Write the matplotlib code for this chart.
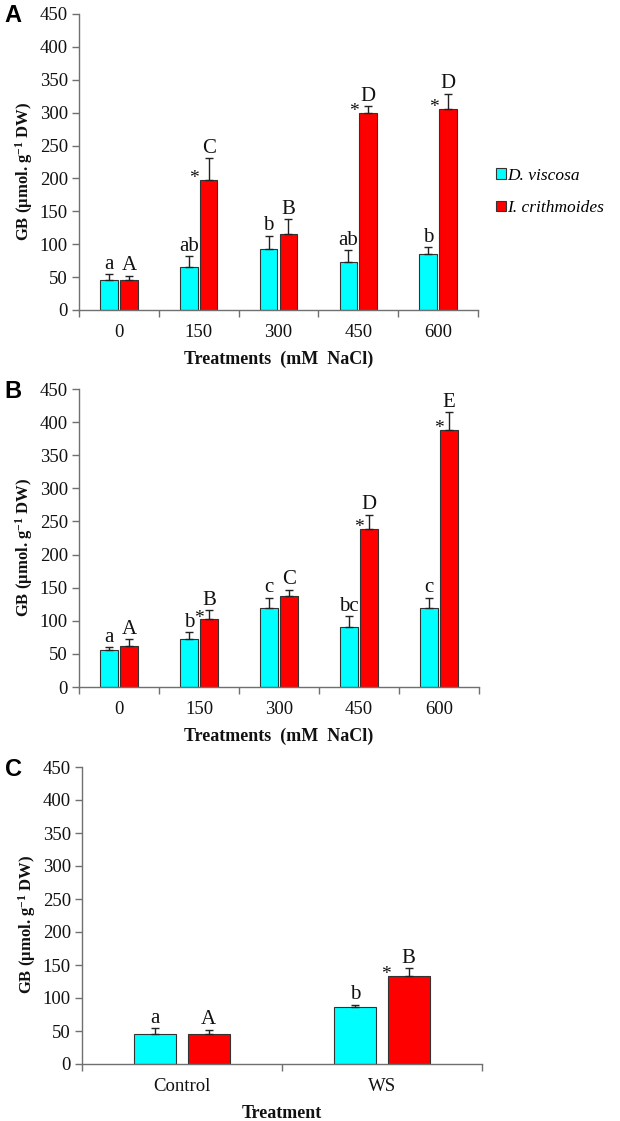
import matplotlib
matplotlib.use("Agg")
import matplotlib.pyplot as plt
import numpy as np

plt.rcParams['font.family'] = ['Liberation Serif', 'DejaVu Serif']
plt.rcParams['mathtext.fontset'] = 'custom'
plt.rcParams['mathtext.rm'] = 'Liberation Serif'
plt.rcParams['mathtext.bf'] = 'Liberation Serif:bold'
plt.rcParams['mathtext.it'] = 'Liberation Serif:italic'

# ---------------- data ----------------
nacl_labels = ['0', '150', '300', '450', '600']
ws_labels = ['Control', 'WS']

a_dv = [46, 65, 92, 73, 85]
a_dv_err = [8, 17, 21, 18, 11]
a_ic = [46, 198, 115, 300, 306]
a_ic_err = [6, 33, 23, 10, 23]
a_dv_let = ['a', 'ab', 'b', 'ab', 'b']
a_ic_let = ['A', 'C', 'B', 'D', 'D']
a_star = [False, True, False, True, True]

b_dv = [56, 73, 120, 91, 120]
b_dv_err = [4, 10, 15, 16, 15]
b_ic = [62, 102, 137, 239, 388]
b_ic_err = [10, 14, 10, 21, 27]
b_dv_let = ['a', 'b', 'c', 'bc', 'c']
b_ic_let = ['A', 'B', 'C', 'D', 'E']
b_star = [False, True, False, True, True]

c_dv = [46, 86]
c_dv_err = [8, 4]
c_ic = [46, 134]
c_ic_err = [6, 11]
c_dv_let = ['a', 'b']
c_ic_let = ['A', 'B']
c_star = [False, True]

series_names = ['D. viscosa', 'I. crithmoides']
colors = ['#00FFFF', '#FF0000']

W, H = 620, 1121
fig = plt.figure(figsize=(W / 100, H / 100), dpi=100)

def ax_rect(left, right, top, bottom):
    return [left / W, 1 - bottom / H, (right - left) / W, (bottom - top) / H]

SP = '#707070'
TXT = '#111111'
ylab = r'GB (µmol. g$^{\mathbf{-1}}$ DW)'


def panel(rect, labels, dv, dv_err, ic, ic_err, dv_let, ic_let, star,
          width, offset, star_dx, xlabel, letter, legend=False):
    ax = fig.add_axes(rect)
    x = np.arange(len(labels))
    n = len(labels)
    zeros = np.zeros(n)
    b1 = ax.bar(x - offset, dv, width, color=colors[0], edgecolor='#333333',
                linewidth=0.8, label=series_names[0], zorder=2)
    b2 = ax.bar(x + offset, ic, width, color=colors[1], edgecolor='#333333',
                linewidth=0.8, label=series_names[1], zorder=2)
    ax.errorbar(x - offset, dv, yerr=[zeros, dv_err], fmt='none', ecolor='#222222',
                elinewidth=1.0, capsize=2.8, capthick=1.0, zorder=3)
    ax.errorbar(x + offset, ic, yerr=[zeros, ic_err], fmt='none', ecolor='#222222',
                elinewidth=1.0, capsize=2.8, capthick=1.0, zorder=3)
    for i in range(n):
        ax.text(x[i] - offset, dv[i] + dv_err[i] + 0.5, dv_let[i], ha='center',
                va='bottom', fontsize=15, color=TXT)
        ax.text(x[i] + offset, ic[i] + ic_err[i] + 0.5, ic_let[i], ha='center',
                va='bottom', fontsize=15, color=TXT)
        if star[i]:
            ax.text(x[i] + offset + star_dx, ic[i] + 2, '*', ha='center',
                    va='center', fontsize=14, color=TXT)
    ax.set_xlim(-0.5, n - 0.5)
    ax.set_ylim(0, 450)
    ax.set_yticks(np.arange(0, 451, 50))
    ax.set_xticks(x)
    ax.set_xticklabels(labels)
    ax.set_xticks(np.arange(-0.5, n, 1.0), minor=True)
    ax.tick_params(axis='x', which='major', length=0, pad=10, labelsize=13.5,
                   labelcolor=TXT)
    ax.tick_params(axis='x', which='minor', length=5, width=1, color=SP,
                   direction='out')
    ax.tick_params(axis='y', which='major', length=5, width=1, color=SP,
                   pad=3, labelsize=13.5, labelcolor=TXT)
    for s in ['top', 'right']:
        ax.spines[s].set_visible(False)
    for s in ['left', 'bottom']:
        ax.spines[s].set_color(SP)
        ax.spines[s].set_linewidth(1.0)
    ax.set_xlabel(xlabel, fontsize=13, fontweight='bold', labelpad=7, color=TXT)
    ax.set_ylabel(ylab, fontsize=12, fontweight='bold', color=TXT)
    ax.yaxis.set_label_coords(-0.11, 0.47)
    pos = ax.get_position()
    fig.text(13 / W, pos.y1 - 2 / H, letter, fontsize=17, fontweight='bold',
             family='Liberation Sans', ha='center', va='center')
    if legend:
        fig.legend(handles=[b1, b2], loc='center left',
                   bbox_to_anchor=(496 / W, 1 - 192 / H), frameon=False,
                   borderpad=0, borderaxespad=0,
                   prop={'family': 'Liberation Serif', 'style': 'italic',
                         'size': 12.5},
                   handlelength=0.55, handleheight=0.55, handletextpad=0.1,
                   labelspacing=0.95)
    return ax


panel(ax_rect(79, 478, 14, 310), nacl_labels, a_dv, a_dv_err, a_ic, a_ic_err,
      a_dv_let, a_ic_let, a_star, 0.22, 0.125, -0.18,
      'Treatments  (mM  NaCl)', 'A', legend=True)
panel(ax_rect(79, 479, 389, 687), nacl_labels, b_dv, b_dv_err, b_ic, b_ic_err,
      b_dv_let, b_ic_let, b_star, 0.22, 0.125, -0.13,
      'Treatments  (mM  NaCl)', 'B')
panel(ax_rect(82, 482, 767, 1064), ws_labels, c_dv, c_dv_err, c_ic, c_ic_err,
      c_dv_let, c_ic_let, c_star, 0.21, 0.133, -0.115,
      'Treatment', 'C')

fig.savefig('out.png', dpi=100)
